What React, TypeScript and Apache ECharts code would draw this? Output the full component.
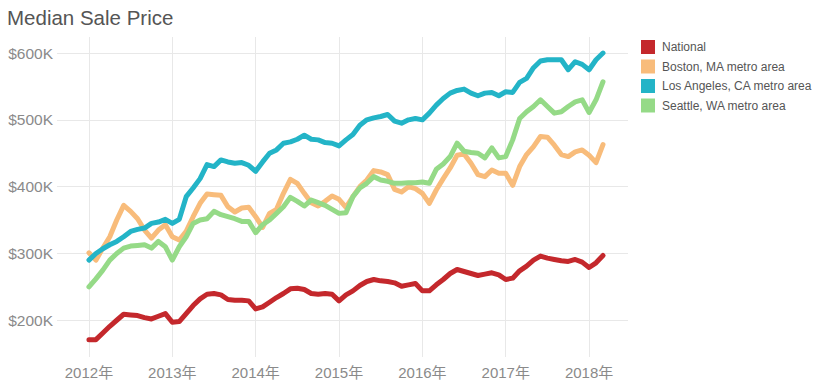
import React, { useEffect, useRef } from "react";
import * as echarts from "echarts";

// Monthly median sale price (thousands of USD), Jan 2012 – Mar 2018
const nationalValues = [
  171, 171, 181, 191, 200, 209, 208, 207, 204, 202, 206, 210,
  197, 198, 210, 222, 232, 239, 240, 238, 231, 230, 230, 229,
  217, 220, 227, 234, 240, 247, 248, 246, 240, 239, 240, 239,
  229, 238, 244, 252, 258, 261, 259, 258, 256, 251, 253, 255,
  244, 244, 253, 261, 270, 276, 273, 270, 267, 269, 271, 268,
  261, 263, 274, 281, 290, 296, 293, 291, 289, 288, 291, 287,
  279, 286, 297,
];
const bostonValues = [
  301, 290, 308, 325, 350, 372, 363, 352, 335, 323, 335, 343,
  325, 320, 333, 355, 375, 389, 388, 387, 370, 362, 368, 369,
  355, 339, 360, 366, 390, 411, 405, 390, 376, 371, 378, 386,
  381, 369, 385, 400, 410, 424, 422, 418, 396, 392, 400, 397,
  390, 375, 395, 412, 428, 447, 449, 435, 418, 415, 425, 420,
  420, 402, 430, 448, 460, 475, 474, 462, 448, 445, 452, 455,
  447, 436, 463,
];
const laValues = [
  290, 300, 307, 313, 318, 325, 333, 336, 338, 345, 347, 351,
  345, 351, 385, 398, 412, 433, 430, 440, 437, 435, 436, 432,
  423, 437, 450, 455, 465, 467, 471, 477, 471, 470, 466, 465,
  461, 470, 478, 492, 500, 503, 505, 508, 498, 495, 500, 502,
  500, 510, 522, 532, 540, 544, 546, 540, 536, 540, 541, 536,
  542, 541, 556, 562, 578, 588, 590, 590, 590, 575, 587, 583,
  575, 590, 600,
];
const seattleValues = [
  250, 262, 275, 290, 300, 308, 311, 312, 313, 308, 318, 310,
  290, 310, 325, 345, 350, 352, 363, 358, 355, 352, 348, 348,
  331, 343, 350, 360, 370, 384, 378, 371, 380, 376, 372, 366,
  360, 361, 385, 398, 405, 415, 410, 408, 405, 405, 406, 406,
  407, 405, 426, 434, 445, 465, 453, 451, 450, 443, 458, 443,
  445, 470, 502, 512, 520, 530, 520, 510, 512, 520, 527, 530,
  511, 530, 557,
];

const seriesNames = [
  "National",
  "Boston, MA metro area",
  "Los Angeles, CA metro area",
  "Seattle, WA metro area",
];
const seriesColors = ["#c4282c", "#f8bc7b", "#23b4c7", "#95da87"];
const yearLabels = ["2012年", "2013年", "2014年", "2015年", "2016年", "2017年", "2018年"];
const yearTickMonths = [0, 12, 24, 36, 48, 60, 72];
const yTickValues = [200, 300, 400, 500, 600];

const FONT = "'Liberation Sans', Arial, 'Noto Sans CJK SC', sans-serif";
const GRID = "#e8e8e8";

export default function App() {
  const ref = useRef<HTMLDivElement>(null);
  useEffect(() => {
    if (!ref.current) return;
    const chart = echarts.init(ref.current, undefined, { renderer: "svg" });
    const allValues = [nationalValues, bostonValues, laValues, seattleValues];
    chart.setOption({
      animation: false,
      title: {
        text: "Median Sale Price",
        left: 2,
        top: 2,
        textStyle: { fontFamily: FONT, fontSize: 20.5, fontWeight: "normal", color: "#555" },
      },
      legend: {
        orient: "vertical",
        left: 636,
        top: 35,
        itemWidth: 14,
        itemHeight: 14,
        itemGap: 5.5,
        icon: "rect",
        data: seriesNames,
        textStyle: { fontFamily: FONT, fontSize: 12, color: "#555", padding: [0, 0, 0, 2] },
      },
      grid: { left: 57, right: 194, top: 37, bottom: 32 },
      xAxis: {
        type: "value",
        min: -4.6,
        max: 77.6,
        axisLine: { show: false },
        axisTick: { show: false, customValues: yearTickMonths },
        axisLabel: {
          customValues: yearTickMonths,
          margin: 8,
          fontFamily: FONT,
          fontSize: 15,
          color: "#8a8a8a",
          formatter: (v: number) => yearLabels[yearTickMonths.indexOf(v)] ?? "",
        },
        splitLine: { show: true, lineStyle: { color: GRID, width: 1 } },
      },
      yAxis: {
        type: "value",
        min: 145,
        max: 624,
        axisLine: { show: false },
        axisTick: { show: false, customValues: yTickValues },
        axisLabel: {
          customValues: yTickValues,
          margin: 4,
          fontFamily: FONT,
          fontSize: 15.5,
          color: "#8a8a8a",
          formatter: (v: number) => "$" + v + "K",
        },
        splitLine: { show: true, lineStyle: { color: GRID, width: 1 } },
      },
      series: seriesNames.map((name, i) => ({
        name,
        type: "line",
        data: allValues[i].map((v, m) => [m, v]),
        showSymbol: false,
        symbol: "none",
        color: seriesColors[i],
        lineStyle: { width: 5, color: seriesColors[i], cap: "round", join: "round" },
      })),
    });
    return () => chart.dispose();
  }, []);
  return (
    <div
      ref={ref}
      style={{ position: "absolute", left: 0, top: 0, width: 822, height: 389, background: "#fff" }}
    />
  );
}
